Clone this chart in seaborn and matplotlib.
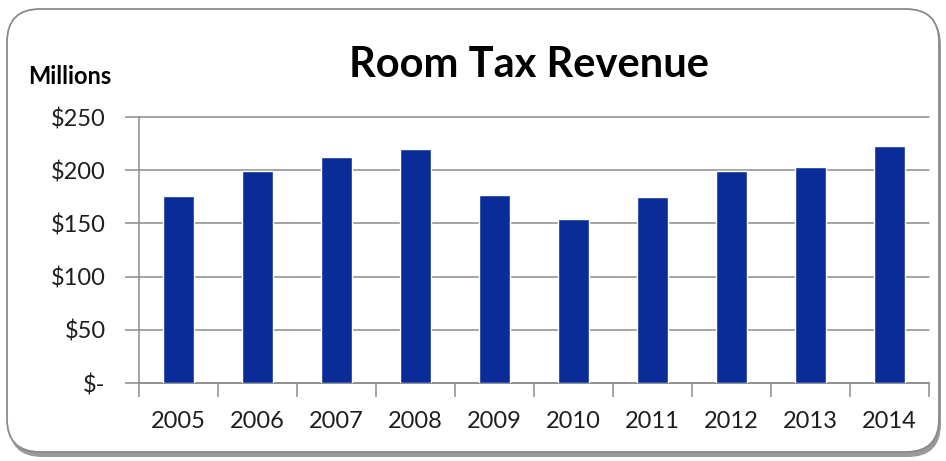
import matplotlib
matplotlib.use("Agg")
import matplotlib.pyplot as plt
import seaborn as sns
import pandas as pd
import numpy as np
from matplotlib.patches import FancyBboxPatch
from matplotlib.ticker import FixedLocator

years = ["2005", "2006", "2007", "2008", "2009", "2010", "2011", "2012", "2013", "2014"]
revenue = [175.7, 199.5, 212.5, 220.0, 177.0, 154.0, 174.8, 199.5, 203.0, 222.5]
y_ticks = [0, 50, 100, 150, 200, 250]
y_labels = ["$-", "$50", "$100", "$150", "$200", "$250"]

sns.set_theme(style="white")
plt.rcParams["font.family"] = ["Lato", "DejaVu Sans"]

W, H = 946, 461
fig = plt.figure(figsize=(W / 100, H / 100), dpi=100)
fig.patch.set_facecolor("white")

# rounded frame with soft shadow
shadow = FancyBboxPatch((9 / W, 4 / H), 932 / W, 445 / H,
                        boxstyle="round,pad=0,rounding_size=0.035",
                        transform=fig.transFigure, facecolor="#9a9a9a",
                        edgecolor="none", zorder=0, mutation_aspect=W / H)
fig.patches.append(shadow)
frame = FancyBboxPatch((7 / W, 9 / H), 932 / W, 443 / H,
                       boxstyle="round,pad=0,rounding_size=0.035",
                       transform=fig.transFigure, facecolor="white",
                       edgecolor="#8a8a8a", linewidth=1.3, zorder=1,
                       mutation_aspect=W / H)
fig.patches.append(frame)

ax = fig.add_axes([139 / W, (H - 383) / H, (929 - 139) / W, (383 - 117) / H])
ax.set_zorder(2)
ax.patch.set_alpha(0)

df = pd.DataFrame({"year": years, "revenue": revenue})
sns.barplot(data=df, x="year", y="revenue", order=years, color="#0a2c98",
            saturation=1, width=0.39, ax=ax, zorder=3)

ax.set_xlim(-0.5, len(years) - 0.5)
ax.set_ylim(0, 250)
ax.set_yticks(y_ticks)
ax.set_yticklabels(y_labels)
ax.yaxis.grid(True, color="#8c8c8c", linewidth=1.1)
ax.set_axisbelow(True)
for g in ax.get_ygridlines():
    g.set_clip_on(False)

ax.xaxis.set_minor_locator(FixedLocator(np.arange(-0.5, len(years), 1.0)))
ax.tick_params(axis="x", which="major", length=0, pad=20, labelsize=17,
               labelcolor="#1e1e1e")
ax.tick_params(axis="x", which="minor", length=10, width=1.1, color="#8c8c8c",
               direction="out", bottom=True)
ax.tick_params(axis="y", which="major", length=10, width=1.1, color="#8c8c8c",
               direction="out", left=True, pad=14, labelsize=17,
               labelcolor="#1e1e1e")

for s in ["top", "right"]:
    ax.spines[s].set_visible(False)
for s in ["left", "bottom"]:
    ax.spines[s].set_color("#8c8c8c")
    ax.spines[s].set_linewidth(1.1)

ax.set_xlabel("")
ax.set_ylabel("")

fig.text(528.5 / W, (H - 77) / H, "Room Tax Revenue", ha="center", va="baseline",
         fontsize=30, fontweight="bold", color="black")
fig.text(28 / W, (H - 84) / H, "Millions", ha="left", va="baseline",
         fontsize=17, fontweight="bold", color="black")

fig.savefig("out.png", dpi=100, facecolor="white")
